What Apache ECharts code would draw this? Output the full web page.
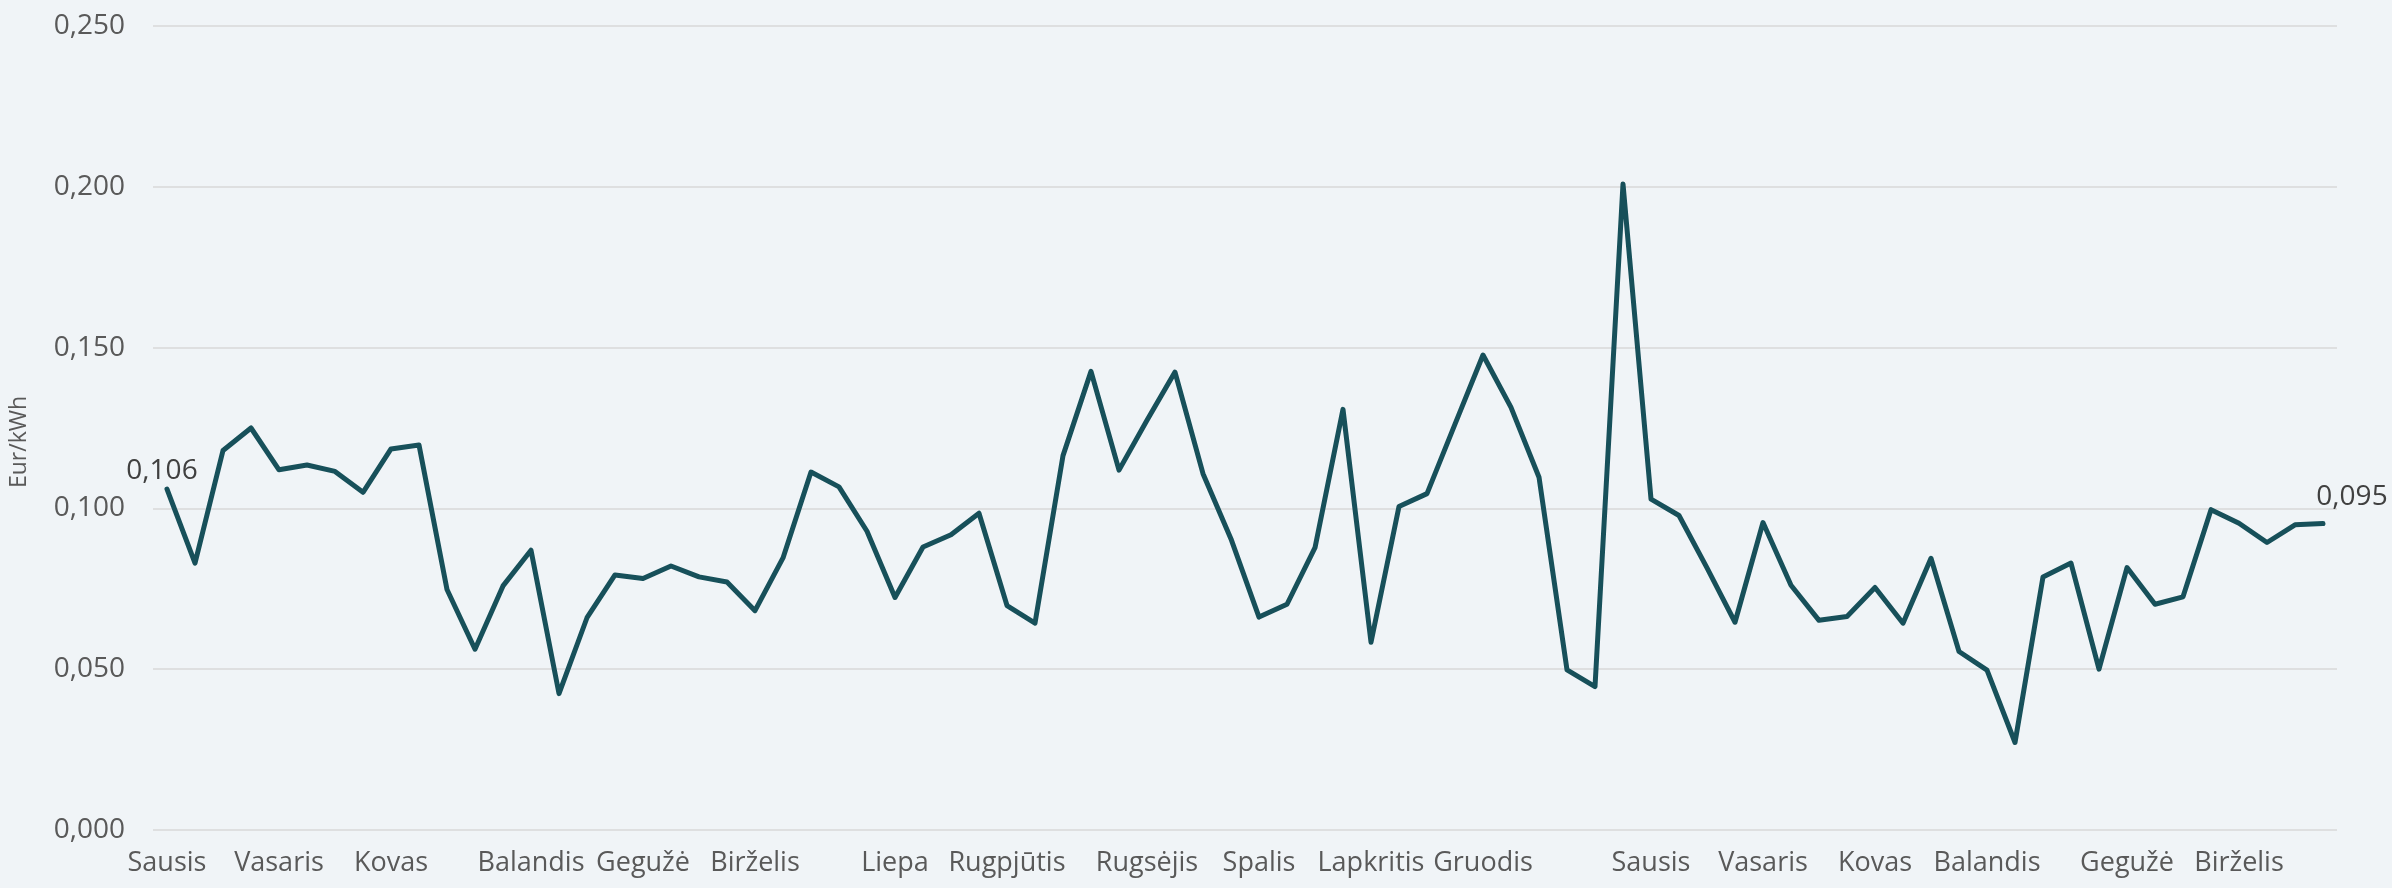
<!DOCTYPE html>
<html>
<head>
<meta charset="utf-8">
<script src="https://cdn.jsdelivr.net/npm/echarts@6/dist/echarts.min.js"></script>
<style>
html,body{margin:0;padding:0;background:#F0F4F7;}
#chart{width:2392px;height:888px;}
</style>
</head>
<body>
<div id="chart"></div>
<script>
// Weekly price series (Eur/kWh), 78 weeks
const prices = [
  0.106, 0.083, 0.118, 0.125, 0.112, 0.1135, 0.1115, 0.105, 0.1185, 0.1197,
  0.0748, 0.0562, 0.0759, 0.087, 0.0424, 0.066, 0.0793, 0.0782, 0.0821, 0.0787,
  0.0771, 0.0682, 0.0846, 0.1113, 0.1067, 0.0929, 0.0723, 0.088, 0.0918, 0.0985,
  0.0698, 0.0643, 0.1164, 0.1426, 0.1119, 0.1274, 0.1424, 0.1108, 0.0905, 0.0662,
  0.0702, 0.0878, 0.1308, 0.0584, 0.1006, 0.1046, 0.1262, 0.1477, 0.1314, 0.1097,
  0.0498, 0.0446, 0.2009, 0.1029, 0.0978, 0.0815, 0.0646, 0.0956, 0.0761, 0.0652,
  0.0664, 0.0754, 0.0643, 0.0845, 0.0555, 0.0497, 0.0272, 0.0787, 0.083, 0.05,
  0.0816, 0.0702, 0.0725, 0.0996, 0.0954, 0.0894, 0.0949, 0.0953
];
const monthNames = ['Sausis','Vasaris','Kovas','Balandis','Gegužė','Birželis','Liepa','Rugpjūtis','Rugsėjis','Spalis','Lapkritis','Gruodis','Sausis','Vasaris','Kovas','Balandis','Gegužė','Birželis'];
const monthStartWeek = [0,4,8,13,17,21,26,30,35,39,43,47,53,57,61,65,70,74];
const weeks = prices.map((_, i) => 'W' + (i + 1));
const yTicks = { min: 0, max: 0.25, interval: 0.05 };
const labelledPoints = [0, prices.length - 1];

const tickLabelAt = {};
monthStartWeek.forEach((w, k) => { tickLabelAt[w] = monthNames[k]; });
const fmt = v => v.toFixed(3).replace('.', ',');
const FONT = '"Open Sans", sans-serif';

const seriesData = prices.map((v, i) => {
  if (i === labelledPoints[0]) {
    return { value: v, label: { show: true, position: 'top', distance: 4, offset: [-5, 0] } };
  }
  if (i === labelledPoints[1]) {
    return { value: v, label: { show: true, position: 'top', distance: 4, offset: [29, -8] } };
  }
  return v;
});

const chart = echarts.init(document.getElementById('chart'), null, { renderer: 'canvas' });
chart.setOption({
  backgroundColor: '#F0F4F7',
  animation: false,
  grid: { left: 153, right: 55, top: 26, bottom: 58, containLabel: false },
  xAxis: {
    type: 'category',
    data: weeks,
    boundaryGap: true,
    axisLine: { show: false },
    axisTick: { show: false },
    axisLabel: {
      interval: 0,
      margin: 20,
      color: '#595959',
      fontFamily: FONT,
      fontSize: 27,
      formatter: (v, i) => tickLabelAt[i] || ''
    }
  },
  yAxis: {
    type: 'value',
    min: yTicks.min,
    max: yTicks.max,
    interval: yTicks.interval,
    name: 'Eur/kWh',
    nameLocation: 'middle',
    nameGap: 122,
    nameRotate: 90,
    nameTextStyle: { color: '#595959', fontFamily: FONT, fontSize: 23, padding: [0, 28, 0, 0] },
    axisLine: { show: false },
    axisTick: { show: false },
    axisLabel: { color: '#595959', fontFamily: FONT, fontSize: 28, margin: 28, formatter: fmt },
    splitLine: { lineStyle: { color: '#D9D9D9', width: 1.5 } }
  },
  series: [{
    type: 'line',
    data: seriesData,
    showSymbol: true,
    symbol: 'circle',
    symbolSize: 1,
    itemStyle: { color: '#17505A' },
    lineStyle: { color: '#17505A', width: 5, join: 'round', cap: 'round' },
    label: {
      show: false,
      color: '#404040',
      fontFamily: FONT,
      fontSize: 28,
      formatter: p => fmt(p.value)
    }
  }]
});
</script>
</body>
</html>
